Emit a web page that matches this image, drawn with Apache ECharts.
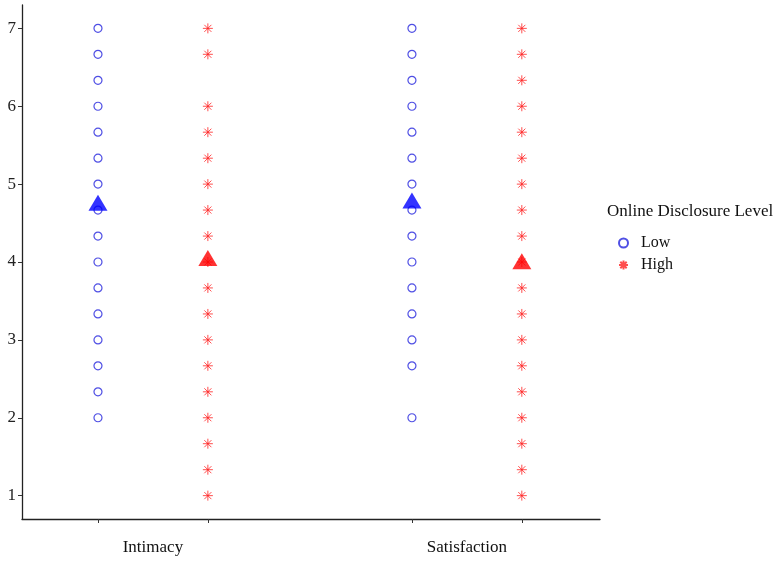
<!DOCTYPE html>
<html><head><meta charset="utf-8">
<script src="https://cdn.jsdelivr.net/npm/echarts@6/dist/echarts.min.js"></script>
<style>html,body{margin:0;padding:0;background:#fff}#c{width:780px;height:561px}</style>
</head><body><div id="c"></div>
<script>
const categories = ['Intimacy', 'Satisfaction'];
const groups = ['Low', 'High'];
const yTicks = [1, 2, 3, 4, 5, 6, 7];
const intimacyLow = [2, 2.333, 2.667, 3, 3.333, 3.667, 4, 4.333, 4.667, 5, 5.333, 5.667, 6, 6.333, 6.667, 7];
const intimacyHigh = [1, 1.333, 1.667, 2, 2.333, 2.667, 3, 3.333, 3.667, 4, 4.333, 4.667, 5, 5.333, 5.667, 6, 6.667, 7];
const satisfactionLow = [2, 2.667, 3, 3.333, 3.667, 4, 4.333, 4.667, 5, 5.333, 5.667, 6, 6.333, 6.667, 7];
const satisfactionHigh = [1, 1.333, 1.667, 2, 2.333, 2.667, 3, 3.333, 3.667, 4, 4.333, 4.667, 5, 5.333, 5.667, 6, 6.333, 6.667, 7];
const meansLow = [4.76, 4.79];
const meansHigh = [4.05, 4.01];

const dodge = 0.175;
const catPos = categories.map((c, i) => i + 1);
const lowX = catPos.map(p => p - dodge);
const highX = catPos.map(p => p + dodge);

const lowData = [].concat(intimacyLow.map(v => [lowX[0], v]), satisfactionLow.map(v => [lowX[1], v]));
const highData = [].concat(intimacyHigh.map(v => [highX[0], v]), satisfactionHigh.map(v => [highX[1], v]));
const meanLowData = meansLow.map((v, i) => [lowX[i], v]);
const meanHighData = meansHigh.map((v, i) => [highX[i], v]);

const serif = '"Liberation Serif", "DejaVu Serif", serif';
const asterisk = 'path://M0,-10L0,10M-10,0L10,0M-7.07,-7.07L7.07,7.07M-7.07,7.07L7.07,-7.07';

const chart = echarts.init(document.getElementById('c'), null, {renderer: 'canvas'});
chart.setOption({
  animation: false,
  backgroundColor: '#fff',
  grid: {left: 22, right: 180, top: 5, bottom: 42, containLabel: false},
  xAxis: {
    type: 'value', min: 0.583, max: 2.424,
    splitLine: {show: false},
    axisLine: {show: true, lineStyle: {color: '#222', width: 1.3}},
    axisTick: {show: true, customValues: lowX.concat(highX), length: 4, lineStyle: {color: '#333'}},
    axisLabel: {customValues: catPos, formatter: v => categories[Math.round(v) - 1],
      fontFamily: serif, fontSize: 17, color: '#111', margin: 20}
  },
  yAxis: {
    type: 'value', min: 0.7, max: 7.3,
    splitLine: {show: false},
    axisLine: {show: true, lineStyle: {color: '#222', width: 1.3}},
    axisTick: {show: true, customValues: yTicks, length: 4, lineStyle: {color: '#333'}},
    axisLabel: {customValues: yTicks, fontFamily: serif, fontSize: 17, color: '#222', margin: 6}
  },
  legend: {
    orient: 'vertical', left: 613, top: 230, itemGap: 6, itemWidth: 9, itemHeight: 9,
    data: groups,
    textStyle: {fontFamily: serif, fontSize: 16, color: '#111', padding: [0, 0, 0, 8]}
  },
  graphic: [{type: 'text', left: 607, top: 203,
    style: {text: 'Online Disclosure Level', font: '17px ' + serif, fill: '#111'}}],
  series: [
    {name: 'Low', type: 'scatter', data: lowData, symbol: 'circle', symbolSize: 8,
      itemStyle: {color: '#fff', borderColor: '#2323dd', borderWidth: 1.2}, z: 2},
    {name: 'High', type: 'scatter', data: highData, symbol: asterisk, symbolSize: 10,
      itemStyle: {color: 'rgba(0,0,0,0)', borderColor: '#f22', borderWidth: 1}, z: 2},
    {name: 'LowMean', type: 'scatter', data: meanLowData, symbol: 'triangle', symbolSize: [19, 16],
      itemStyle: {color: '#0000ff'}, z: 3},
    {name: 'HighMean', type: 'scatter', data: meanHighData, symbol: 'triangle', symbolSize: [19, 16],
      itemStyle: {color: '#ff0000'}, z: 3}
  ]
});
</script></body></html>
